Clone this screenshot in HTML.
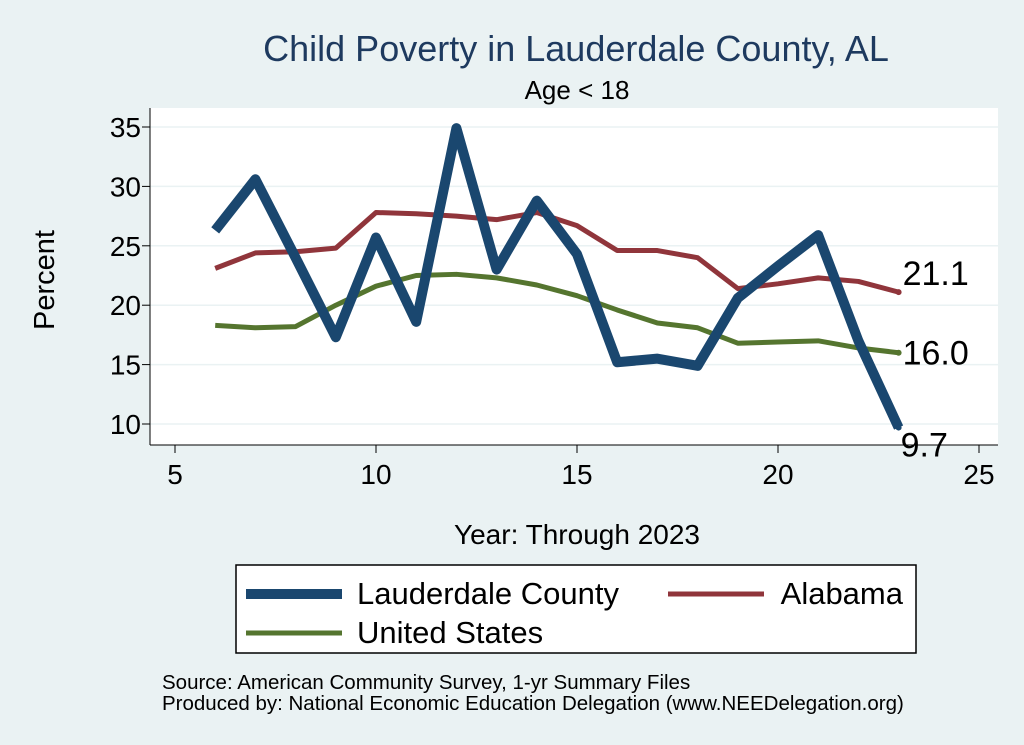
<!DOCTYPE html>
<html><head><meta charset="utf-8"><style>
html,body{margin:0;background:#eaf2f3;font-family:"Liberation Sans",sans-serif;overflow:hidden;}
svg{display:block}
svg text{font-family:"Liberation Sans",sans-serif;}
</style></head><body>
<svg id="c" width="1024" height="745">
<rect width="1024" height="745" fill="#eaf2f3"/>
<text x="576" y="61" font-size="36" fill="#1e3a5f" text-anchor="middle">Child Poverty in Lauderdale County, AL</text>
<text x="577" y="99" font-size="26" text-anchor="middle">Age &lt; 18</text>
<rect x="150" y="108" width="848" height="337" fill="#fff"/>
<g id="grid"></g><g id="axes"></g><g id="series"></g>
<text x="54" y="280" font-size="29" text-anchor="middle" transform="rotate(-90 54 280)">Percent</text>
<text x="577" y="544" font-size="28" text-anchor="middle">Year: Through 2023</text>
<g>
<rect x="236" y="565" width="680" height="88" fill="#fff" stroke="#000" stroke-width="1.5"/>
<line x1="246" y1="594" x2="342" y2="594" stroke="#1a476f" stroke-width="10"/>
<text x="357" y="604" font-size="31">Lauderdale County</text>
<line x1="668" y1="594" x2="764" y2="594" stroke="#90353b" stroke-width="5"/>
<text x="903" y="604" font-size="31" text-anchor="end">Alabama</text>
<line x1="246" y1="633" x2="342" y2="633" stroke="#55752f" stroke-width="5"/>
<text x="357" y="643" font-size="31">United States</text>
</g>
<text x="162" y="689" font-size="20.5">Source: American Community Survey, 1-yr Summary Files</text>
<text x="162" y="710" font-size="20.5">Produced by: National Economic Education Delegation (www.NEEDelegation.org)</text>
</svg>
<script>
const years=[6,7,8,9,10,11,12,13,14,15,16,17,18,19,20,21,22,23];
const lauderdale=[26.3,30.6,24.0,17.3,25.7,18.6,34.9,23.0,28.8,24.3,15.2,15.5,14.9,20.6,23.3,25.9,17.0,9.7];
const alabama=[23.1,24.4,24.5,24.8,27.8,27.7,27.5,27.2,27.8,26.7,24.6,24.6,24.0,21.4,21.8,22.3,22.0,21.1];
const usa=[18.3,18.1,18.2,20.0,21.6,22.5,22.6,22.3,21.7,20.8,19.6,18.5,18.1,16.8,16.9,17.0,16.4,16.0];
const xTicks=[5,10,15,20,25];
const yTicks=[10,15,20,25,30,35];
const NS="http://www.w3.org/2000/svg";
const X=v=>175+(v-5)*40.2;
const Y=v=>127+(35-v)*11.88;
function mk(t,a,p){const e=document.createElementNS(NS,t);for(const k in a)e.setAttribute(k,a[k]);p.appendChild(e);return e;}
const grid=document.getElementById('grid'),axes=document.getElementById('axes'),ser=document.getElementById('series');
yTicks.forEach(v=>{
 const g=mk('line',{x1:150,x2:998,y1:Y(v),y2:Y(v),stroke:'#eaf2f3','stroke-width':1.5},grid);
 
 
 mk('line',{x1:142,x2:150,y1:Y(v),y2:Y(v),stroke:'#000'},axes);
 const t=mk('text',{x:141,y:Y(v)+10,'font-size':28,'text-anchor':'end'},axes);t.textContent=v;
 
 
});
mk('line',{x1:150,x2:150,y1:108,y2:445,stroke:'#000'},axes);
mk('line',{x1:150,x2:998,y1:445,y2:445,stroke:'#000'},axes);
xTicks.forEach(v=>{
 mk('line',{x1:X(v),x2:X(v),y1:445,y2:453,stroke:'#000'},axes);
 const t=mk('text',{x:X(v),y:484,'font-size':28,'text-anchor':'middle'},axes);t.textContent=v;
 
 
});
function line(d,col,w,name){
 const p=mk('polyline',{points:years.map((y,i)=>X(y)+','+Y(d[i])).join(' '),fill:'none',stroke:col,'stroke-width':w,'stroke-linejoin':'round'},ser);
 
 
 const n=d.length-1;
 mk('circle',{cx:X(years[n]),cy:Y(d[n]),r:3,fill:col},ser);
}
line(usa,'#55752f',5,'line-united-states');
line(alabama,'#90353b',5,'line-alabama');
line(lauderdale,'#1a476f',10,'line-lauderdale');
const n=years.length-1;
[[alabama,-7],[usa,12],[lauderdale,29]].forEach(([d,dy])=>{
 const t=mk('text',{x:X(years[n])+(d===lauderdale?2:4),y:Y(d[n])+dy,'font-size':34},ser);
 t.textContent=d[n].toFixed(1);
 
 
});
</script>
</body></html>
